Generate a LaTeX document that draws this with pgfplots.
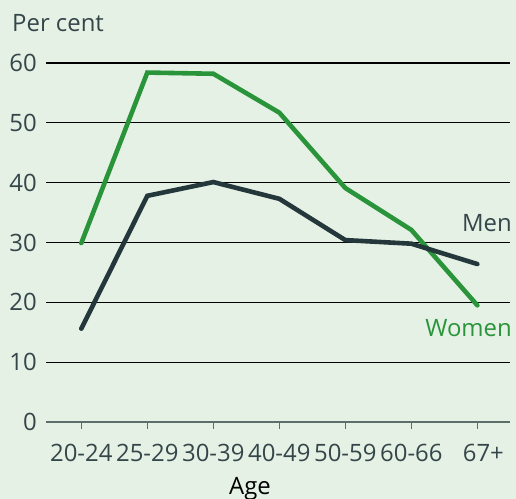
\documentclass[border=0pt]{standalone}
\usepackage{pgfplots}
\pgfplotsset{compat=1.18}
\usepackage{fontspec}
\setmainfont{Open Sans}
\definecolor{bgc}{HTML}{E6F1E5}
\definecolor{wom}{HTML}{2A943A}
\definecolor{men}{HTML}{24373A}
\definecolor{txt}{HTML}{34464A}
\definecolor{grid}{HTML}{3E4E4E}
\definecolor{zero}{HTML}{5E6E6A}
\begin{document}
\fontsize{24}{28}\selectfont
\begin{tikzpicture}[x=1bp,y=1bp]
\fill[bgc] (0,0) rectangle (516,499);
\path[use as bounding box] (0,0) rectangle (516,499);
\begin{axis}[
  at={(46bp,77bp)}, anchor=south west,
  scale only axis, width=464bp, height=359bp,
  xmin=-0.535, xmax=6.495, ymin=0, ymax=60,
  axis lines=none,
  clip=false,
  xtick=\empty, ytick=\empty,
]
\addplot[grid, line width=1.2bp, forget plot] coordinates {(-0.535,10) (6.495,10)};
\addplot[grid, line width=1.2bp, forget plot] coordinates {(-0.535,20) (6.495,20)};
\addplot[grid, line width=1.2bp, forget plot] coordinates {(-0.535,30) (6.495,30)};
\addplot[grid, line width=1.2bp, forget plot] coordinates {(-0.535,40) (6.495,40)};
\addplot[grid, line width=1.2bp, forget plot] coordinates {(-0.535,50) (6.495,50)};
\addplot[grid, line width=1.2bp, forget plot] coordinates {(-0.535,60) (6.495,60)};
\addplot[zero, line width=1.3bp, forget plot] coordinates {(-0.535,0) (6.495,0)};
\pgfplotsinvokeforeach{0,1,2,3,4,5,6}{
  \draw[zero, line width=1.3bp] (axis cs:#1,0) -- ([yshift=-7bp]axis cs:#1,0);
}
% y tick labels
\pgfplotsinvokeforeach{0,10,20,30,40,50,60}{
  \node[anchor=east, text=txt, inner sep=0pt] at ([xshift=-9bp]axis cs:-0.535,#1) {#1};
}
% x tick labels
\node[anchor=base, text=txt, inner sep=0pt] at ([yshift=-40bp]axis cs:0,0) {20-24};
\node[anchor=base, text=txt, inner sep=0pt] at ([yshift=-40bp]axis cs:1,0) {25-29};
\node[anchor=base, text=txt, inner sep=0pt] at ([yshift=-40bp]axis cs:2,0) {30-39};
\node[anchor=base, text=txt, inner sep=0pt] at ([yshift=-40bp]axis cs:3,0) {40-49};
\node[anchor=base, text=txt, inner sep=0pt] at ([yshift=-40bp]axis cs:4,0) {50-59};
\node[anchor=base, text=txt, inner sep=0pt] at ([yshift=-40bp]axis cs:5,0) {60-66};
\node[anchor=base, text=txt, inner sep=0pt] at ([yshift=-40bp,xshift=6bp]axis cs:6,0) {67+};
\addplot[wom, line width=4.6bp, line cap=round, line join=miter] coordinates {
 (0,29.9) (1,58.4) (2,58.2) (3,51.7) (4,39.1) (5,32.1) (6,19.5)};
\addplot[men, line width=4.6bp, line cap=round, line join=miter] coordinates {
 (0,15.6) (1,37.8) (2,40.1) (3,37.3) (4,30.4) (5,29.8) (6,26.4)};
\end{axis}
\node[anchor=base west, text=txt, inner sep=0pt] at (12,467) {Per cent};
\node[anchor=base, text=black, inner sep=0pt] at (250,4) {Age};
\node[anchor=base east, text=txt, inner sep=0pt] at (512,267) {Men};
\node[anchor=base east, text=wom, inner sep=0pt] at (512,162) {Women};
\end{tikzpicture}
\end{document}
